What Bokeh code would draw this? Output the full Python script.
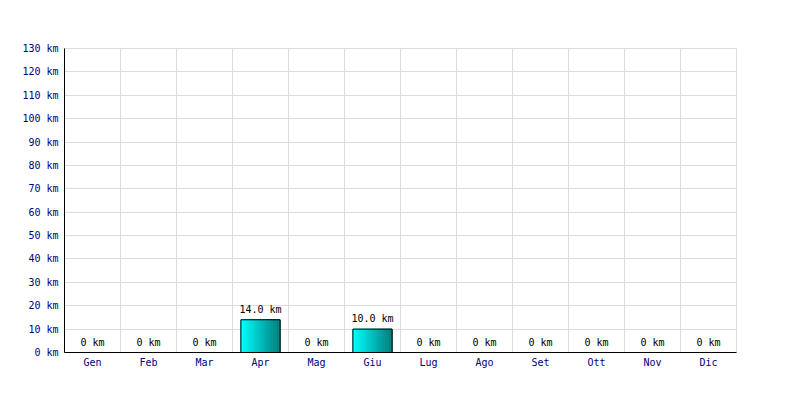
from bokeh.plotting import figure
from bokeh.models import ColumnDataSource, FixedTicker, Grid, Range1d, LabelSet
from bokeh.transform import dodge
from bokeh.core.properties import value
from bokeh.embed import file_html
from bokeh.resources import INLINE

months = ["Gen", "Feb", "Mar", "Apr", "Mag", "Giu", "Lug", "Ago", "Set", "Ott", "Nov", "Dic"]
values = [0, 0, 0, 14.0, 0, 10.0, 0, 0, 0, 0, 0, 0]
y_ticks = list(range(0, 140, 10))
y_tick_labels = {t: f"{t} km" for t in y_ticks}

xs = [i + 0.5 for i in range(len(months))]
labels = ["0 km" if v == 0 else f"{v:.1f} km" for v in values]
src = ColumnDataSource(dict(x=xs, value=values, month=months, label=labels))

FONT = "DejaVu Sans Mono"
p = figure(width=800, height=400, output_backend="svg", toolbar_location=None,
           x_range=Range1d(0, 12), y_range=Range1d(0, 130),
           min_border_left=64, min_border_right=64, min_border_top=48, min_border_bottom=48)
p.outline_line_color = "#dcdcdc"
p.outline_line_width = 1

# grids
p.xgrid.visible = False
p.ygrid.ticker = FixedTicker(ticks=y_ticks)
p.ygrid.grid_line_color = "#dcdcdc"
p.add_layout(Grid(dimension=0, ticker=FixedTicker(ticks=list(range(13))), grid_line_color="#dcdcdc"))

# axes
p.xaxis.ticker = FixedTicker(ticks=xs)
p.xaxis.major_label_overrides = {x: m for x, m in zip(xs, months)}
p.yaxis.ticker = FixedTicker(ticks=y_ticks)
p.yaxis.major_label_overrides = y_tick_labels
for ax in (p.xaxis, p.yaxis):
    ax.axis_line_color = "black"
    ax.major_tick_line_color = None
    ax.minor_tick_line_color = None
    ax.major_label_text_font = FONT
    ax.major_label_text_font_size = "10px"
    ax.major_label_text_color = "#000080"
p.xaxis.major_label_standoff = -2
p.yaxis.major_label_standoff = 0

# gradient bars as strips
bar_w = 0.70
n = 30
sw = bar_w / n
c0 = (0, 255, 255)
c1 = (0, 128, 128)
for k in range(n):
    t = k / (n - 1)
    col = "#%02x%02x%02x" % tuple(round(a + (b - a) * t) for a, b in zip(c0, c1))
    off = -bar_w / 2 + sw * (k + 0.5)
    p.vbar(x=dodge("x", off), top="value", width=sw, bottom=0, source=src,
           fill_color=col, line_color=col, line_width=1)
p.vbar(x="x", top="value", width=bar_w, bottom=0, source=src, fill_color=None,
       line_color="black", line_width=1)

p.add_layout(LabelSet(x="x", y="value", text="label", source=src, text_align="center",
                      text_baseline="bottom", y_offset=5, text_font=value(FONT),
                      text_font_size="10px", text_color="black"))

open("out.html", "w").write(file_html(p, INLINE))
